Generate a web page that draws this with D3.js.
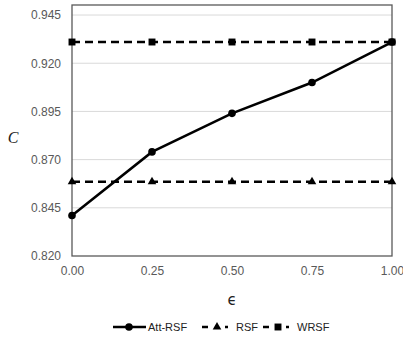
<!DOCTYPE html>
<html>
<head>
<meta charset="utf-8">
<script src="https://cdn.jsdelivr.net/npm/d3@7"></script>
<style>
  body { margin: 0; background: #fff; }
  .tick text { font-family: "Liberation Sans", Arial, sans-serif; font-size: 12px; fill: #595959; }
</style>
</head>
<body>
<div id="chart"></div>
<script>
// values
var eps = [0, 0.25, 0.5, 0.75, 1.0];
var attRsf = [0.841, 0.874, 0.894, 0.910, 0.931];
var rsf = [0.8585, 0.8585, 0.8585, 0.8585, 0.8585];
var wrsf = [0.931, 0.931, 0.931, 0.931, 0.931];
var yTicks = [0.820, 0.845, 0.870, 0.895, 0.920, 0.945];
var xTicks = [0, 0.25, 0.5, 0.75, 1.0];

var W = 403, H = 337;
var margin = {top: 5, right: 11, bottom: 81, left: 72};
var width = W - margin.left - margin.right;
var height = H - margin.top - margin.bottom;

var svg = d3.select("#chart").append("svg")
    .attr("width", W)
    .attr("height", H);

var g = svg.append("g")
    .attr("transform", "translate(" + margin.left + "," + margin.top + ")");

var x = d3.scaleLinear().domain([0, 1]).range([0, width]);
var y = d3.scaleLinear().domain([0.82, 0.9502]).range([height, 0]);

// gridlines
g.selectAll(".grid")
    .data(yTicks.slice(1))
    .enter().append("line")
    .attr("x1", 0).attr("x2", width)
    .attr("y1", function(d) { return y(d); })
    .attr("y2", function(d) { return y(d); })
    .attr("stroke", "#d9d9d9")
    .attr("stroke-width", 1);

// frame
g.append("rect")
    .attr("width", width).attr("height", height)
    .attr("fill", "none")
    .attr("stroke", "#595959")
    .attr("stroke-width", 1.3);

// axes
var yAxis = g.append("g")
    .call(d3.axisLeft(y).tickValues(yTicks).tickFormat(d3.format(".3f")).tickSize(0).tickPadding(11));
yAxis.select(".domain").remove();

var xAxis = g.append("g")
    .attr("transform", "translate(0," + height + ")")
    .call(d3.axisBottom(x).tickValues(xTicks).tickFormat(d3.format(".2f")).tickSize(0).tickPadding(10));
xAxis.select(".domain").remove();

// axis titles
svg.append("text")
    .attr("x", 13).attr("y", 143)
    .attr("text-anchor", "middle")
    .style("font-family", "'Liberation Serif', 'DejaVu Serif', serif")
    .style("font-style", "italic")
    .style("font-size", "16px")
    .attr("fill", "#222")
    .text("C");

svg.append("text")
    .attr("x", margin.left + width / 2).attr("y", 305)
    .attr("text-anchor", "middle")
    .style("font-family", "'DejaVu Sans', sans-serif")
    .style("font-size", "15px")
    .attr("fill", "#222")
    .text("ϵ");

var line = d3.line()
    .x(function(d, i) { return x(eps[i]); })
    .y(function(d) { return y(d); });

// RSF dashed with triangles
g.append("path").datum(rsf)
    .attr("d", line).attr("fill", "none")
    .attr("stroke", "#000").attr("stroke-width", 2.5)
    .attr("stroke-dasharray", "8,5");
g.selectAll(".rsf").data(rsf).enter().append("path")
    .attr("transform", function(d, i) { return "translate(" + x(eps[i]) + "," + y(d) + ")"; })
    .attr("d", d3.symbol().type(d3.symbolTriangle).size(32));

// WRSF dashed with squares
g.append("path").datum(wrsf)
    .attr("d", line).attr("fill", "none")
    .attr("stroke", "#000").attr("stroke-width", 2.5)
    .attr("stroke-dasharray", "8,5");
g.selectAll(".wrsf").data(wrsf).enter().append("path")
    .attr("transform", function(d, i) { return "translate(" + x(eps[i]) + "," + y(d) + ")"; })
    .attr("d", d3.symbol().type(d3.symbolSquare).size(48));

// Att-RSF solid with circles
g.append("path").datum(attRsf)
    .attr("d", line).attr("fill", "none")
    .attr("stroke", "#000").attr("stroke-width", 2.5);
g.selectAll(".att").data(attRsf).enter().append("circle")
    .attr("cx", function(d, i) { return x(eps[i]); })
    .attr("cy", function(d) { return y(d); })
    .attr("r", 3.8);

// legend
var ly = 327;
var legend = svg.append("g");
legend.append("line").attr("x1", 113).attr("x2", 146).attr("y1", ly).attr("y2", ly)
    .attr("stroke", "#000").attr("stroke-width", 2.5);
legend.append("circle").attr("cx", 129).attr("cy", ly).attr("r", 3.8);

legend.append("line").attr("x1", 202).attr("x2", 233).attr("y1", ly).attr("y2", ly)
    .attr("stroke", "#000").attr("stroke-width", 2.5).attr("stroke-dasharray", "6,8,0,9,3,20");
legend.append("path").attr("transform", "translate(217," + ly + ")")
    .attr("d", d3.symbol().type(d3.symbolTriangle).size(32));

legend.append("line").attr("x1", 263).attr("x2", 294).attr("y1", ly).attr("y2", ly)
    .attr("stroke", "#000").attr("stroke-width", 2.5).attr("stroke-dasharray", "6,8,0,9,3,20");
legend.append("path").attr("transform", "translate(278," + ly + ")")
    .attr("d", d3.symbol().type(d3.symbolSquare).size(48));

var labels = [["Att-RSF", 148], ["RSF", 236], ["WRSF", 297]];
labels.forEach(function(l) {
  legend.append("text")
      .attr("x", l[1]).attr("y", ly + 4)
      .style("font-family", "'Liberation Sans', Arial, sans-serif")
      .style("font-size", "11px")
      .attr("fill", "#222")
      .text(l[0]);
});
</script>
</body>
</html>
